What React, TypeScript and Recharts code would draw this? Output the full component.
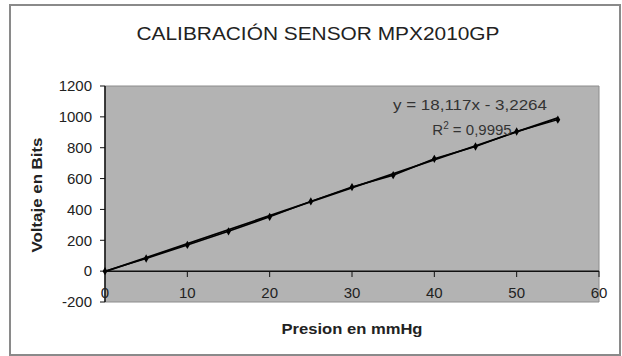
import React from "react";
import {
  ComposedChart,
  Scatter,
  Line,
  XAxis,
  YAxis,
  ZAxis,
  CartesianGrid,
  ReferenceLine,
  ReferenceArea,
} from "recharts";

// Measured points (pressure mmHg -> bits)
const pressure = [0, 5, 10, 15, 20, 25, 30, 35, 40, 45, 50, 55];
const bits = [0, 82, 170, 258, 352, 452, 545, 622, 728, 808, 905, 982];

// Linear trendline end points (y = 18,117x - 3,2264)
const trendX = [0, 55];
const trendY = [-3.2264, 993.2];

const xTicks = [0, 10, 20, 30, 40, 50, 60];
const yTicks = [-200, 0, 200, 400, 600, 800, 1000, 1200];

const title = "CALIBRACIÓN SENSOR MPX2010GP";
const xTitle = "Presion en mmHg";
const yTitle = "Voltaje en Bits";
const eqText = "y = 18,117x - 3,2264";
const r2Value = "0,9995";

const points = pressure.map((x, i) => ({ x, y: bits[i] }));
const trend = trendX.map((x, i) => ({ x, y: trendY[i] }));

const FONT = "'Liberation Sans', Arial, sans-serif";

const XTick = (props: any) => {
  const { x, y, payload } = props;
  return (
    <text
      x={x}
      y={y}
      dy={-4}
      textAnchor="middle"
      fontFamily={FONT}
      fontSize={15}
      fill="#222"
    >
      {payload.value}
    </text>
  );
};

export default function App() {
  return (
    <div style={{ position: "absolute", left: 0, top: 0, width: 622, height: 356, background: "#fff" }}>
      <ComposedChart
        width={622}
        height={356}
        margin={{ top: 86, right: 23, left: 0, bottom: 24 }}
      >
        <CartesianGrid horizontal={false} vertical={false} fill="#b3b3b3" />
        <ReferenceArea
          x1={0}
          x2={60}
          y1={-200}
          y2={1200}
          fill="none"
          stroke="#8c8c8c"
          strokeWidth={1}
          ifOverflow="extendDomain"
        />
        <XAxis
          type="number"
          dataKey="x"
          domain={[0, 60]}
          ticks={xTicks}
          axisLine={false}
          tickLine={false}
          tickSize={0}
          tickMargin={0}
          height={30}
          tick={<XTick />}
          interval={0}
        />
        <YAxis
          type="number"
          dataKey="y"
          domain={[-200, 1200]}
          ticks={yTicks}
          width={105}
          axisLine={{ stroke: "#111", strokeWidth: 1.5 }}
          tickLine={{ stroke: "#111" }}
          tickSize={5}
          tickMargin={8}
          interval={0}
          tick={{ fontFamily: FONT, fontSize: 15, fill: "#222" }}
        />
        <ZAxis range={[20, 20]} />
        <ReferenceLine y={0} stroke="#111" strokeWidth={1.5} />
        {xTicks.slice(1).map((t) => (
          <ReferenceLine
            key={t}
            segment={[
              { x: t, y: 0 },
              { x: t, y: -38 },
            ]}
            stroke="#111"
            strokeWidth={1}
          />
        ))}
        <Line
          data={trend}
          dataKey="y"
          stroke="#000"
          strokeWidth={1.8}
          dot={false}
          isAnimationActive={false}
          type="linear"
        />
        <Scatter
          data={points}
          dataKey="y"
          fill="#000"
          shape="diamond"
          line={{ stroke: "#000", strokeWidth: 1.5 }}
          isAnimationActive={false}
        />
      </ComposedChart>
      <svg
        width={622}
        height={356}
        style={{ position: "absolute", left: 0, top: 0, pointerEvents: "none" }}
      >
        <rect x={10} y={5} width={610} height={350} fill="none" stroke="#8a8a8a" strokeWidth={2} />
        <text
          x={318}
          y={40}
          textAnchor="middle"
          fontFamily={FONT}
          fontSize={18}
          fill="#222"
          textLength={363}
          lengthAdjust="spacingAndGlyphs"
        >
          {title}
        </text>
        <text
          x={352}
          y={334}
          textAnchor="middle"
          fontFamily={FONT}
          fontSize={15}
          fontWeight="bold"
          fill="#222"
          textLength={141}
          lengthAdjust="spacingAndGlyphs"
        >
          {xTitle}
        </text>
        <text
          x={42}
          y={195}
          transform="rotate(-90 42 195)"
          textAnchor="middle"
          fontFamily={FONT}
          fontSize={15}
          fontWeight="bold"
          fill="#222"
          textLength={115}
          lengthAdjust="spacingAndGlyphs"
        >
          {yTitle}
        </text>
        <text
          x={470}
          y={110}
          textAnchor="middle"
          fontFamily={FONT}
          fontSize={15}
          fill="#333"
          textLength={154}
          lengthAdjust="spacingAndGlyphs"
        >
          {eqText}
        </text>
        <text
          x={472}
          y={135}
          textAnchor="middle"
          fontFamily={FONT}
          fontSize={15}
          fill="#333"
        >
          R<tspan dy={-6} fontSize={10}>2</tspan>
          <tspan dy={6}>{" = " + r2Value}</tspan>
        </text>
      </svg>
    </div>
  );
}
